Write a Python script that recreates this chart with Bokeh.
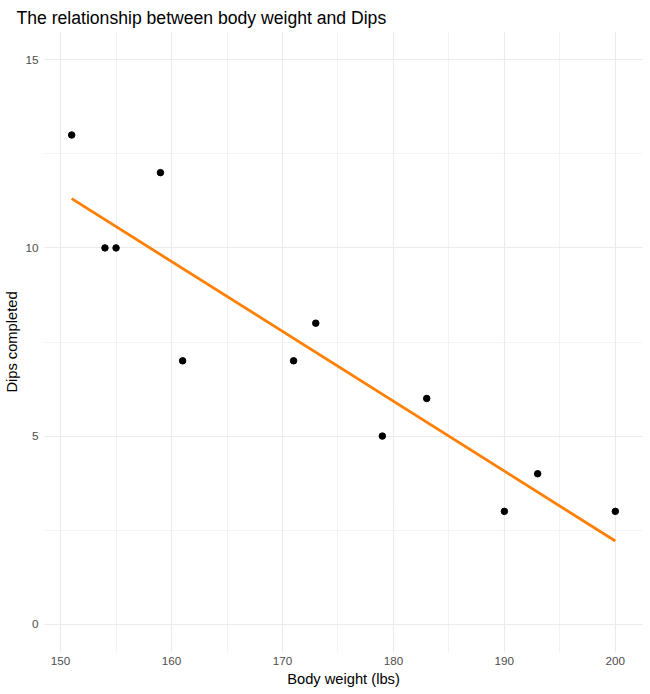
import numpy as np
from bokeh.plotting import figure
from bokeh.models import FixedTicker, ColumnDataSource
from bokeh.embed import file_html
from bokeh.resources import INLINE

# Data
body_weight = [151, 154, 155, 159, 161, 171, 173, 179, 183, 190, 193, 200]
dips = [13, 10, 10, 12, 7, 7, 8, 5, 6, 3, 4, 3]

x_ticks = [150, 160, 170, 180, 190, 200]
x_minor = [155, 165, 175, 185, 195]
y_ticks = [0, 5, 10, 15]
y_minor = [2.5, 7.5, 12.5]

title_text = "The relationship between body weight and Dips"
x_label = "Body weight (lbs)"
y_label = "Dips completed"

# Linear fit (geom_smooth method = "lm")
xs = np.array(body_weight, dtype=float)
ys = np.array(dips, dtype=float)
slope, intercept = np.polyfit(xs, ys, 1)
fit_x = np.array([xs.min(), xs.max()])
fit_y = slope * fit_x + intercept

FONT = "Liberation Sans"
x_pad = (xs.max() - xs.min()) * 0.05
y_pad = (15 - 0) * 0.05

p = figure(width=645, height=690, output_backend="svg", toolbar_location=None,
           x_range=(xs.min() - x_pad, xs.max() + x_pad),
           y_range=(0 - y_pad, 15 + y_pad),
           min_border_left=44, min_border_right=3, min_border_top=31, min_border_bottom=38)

p.title.text = title_text
p.title.text_font = FONT
p.title.text_font_size = "17.6px"
p.title.text_font_style = "normal"
p.title.text_color = "black"
p.title.align = "left"
p.title.offset = -28
p.title.standoff = 8

p.outline_line_color = None
p.background_fill_color = "white"
p.border_fill_color = "white"

for ax in (p.xaxis[0], p.yaxis[0]):
    ax.axis_line_color = None
    ax.major_tick_line_color = None
    ax.minor_tick_line_color = None
    ax.major_tick_out = 0
    ax.major_tick_in = 0
    ax.minor_tick_out = 0
    ax.minor_tick_in = 0
    ax.major_label_text_font = FONT
    ax.major_label_text_font_size = "11.7px"
    ax.major_label_text_color = "#4D4D4D"
    ax.axis_label_text_font = FONT
    ax.axis_label_text_font_size = "14.7px"
    ax.axis_label_text_font_style = "normal"
    ax.axis_label_text_color = "black"

p.xaxis[0].ticker = FixedTicker(ticks=x_ticks, minor_ticks=x_minor)
p.yaxis[0].ticker = FixedTicker(ticks=y_ticks, minor_ticks=y_minor)
p.xaxis[0].axis_label = x_label
p.yaxis[0].axis_label = y_label
p.xaxis[0].major_label_standoff = 4
p.xaxis[0].axis_label_standoff = 3
p.yaxis[0].major_label_standoff = 6
p.yaxis[0].axis_label_standoff = 2

for g in (p.xgrid[0], p.ygrid[0]):
    g.grid_line_color = "#EBEBEB"
    g.grid_line_width = 1.1
    g.minor_grid_line_color = "#EBEBEB"
    g.minor_grid_line_width = 0.6

src = ColumnDataSource(data=dict(x=body_weight, y=dips))
fit_src = ColumnDataSource(data=dict(x=fit_x, y=fit_y))
p.line("x", "y", source=fit_src, line_color="#FF7F00", line_width=2.8)
p.scatter("x", "y", source=src, size=6.5, fill_color="black", line_color="black")

open("out.html", "w").write(file_html(p, INLINE))
